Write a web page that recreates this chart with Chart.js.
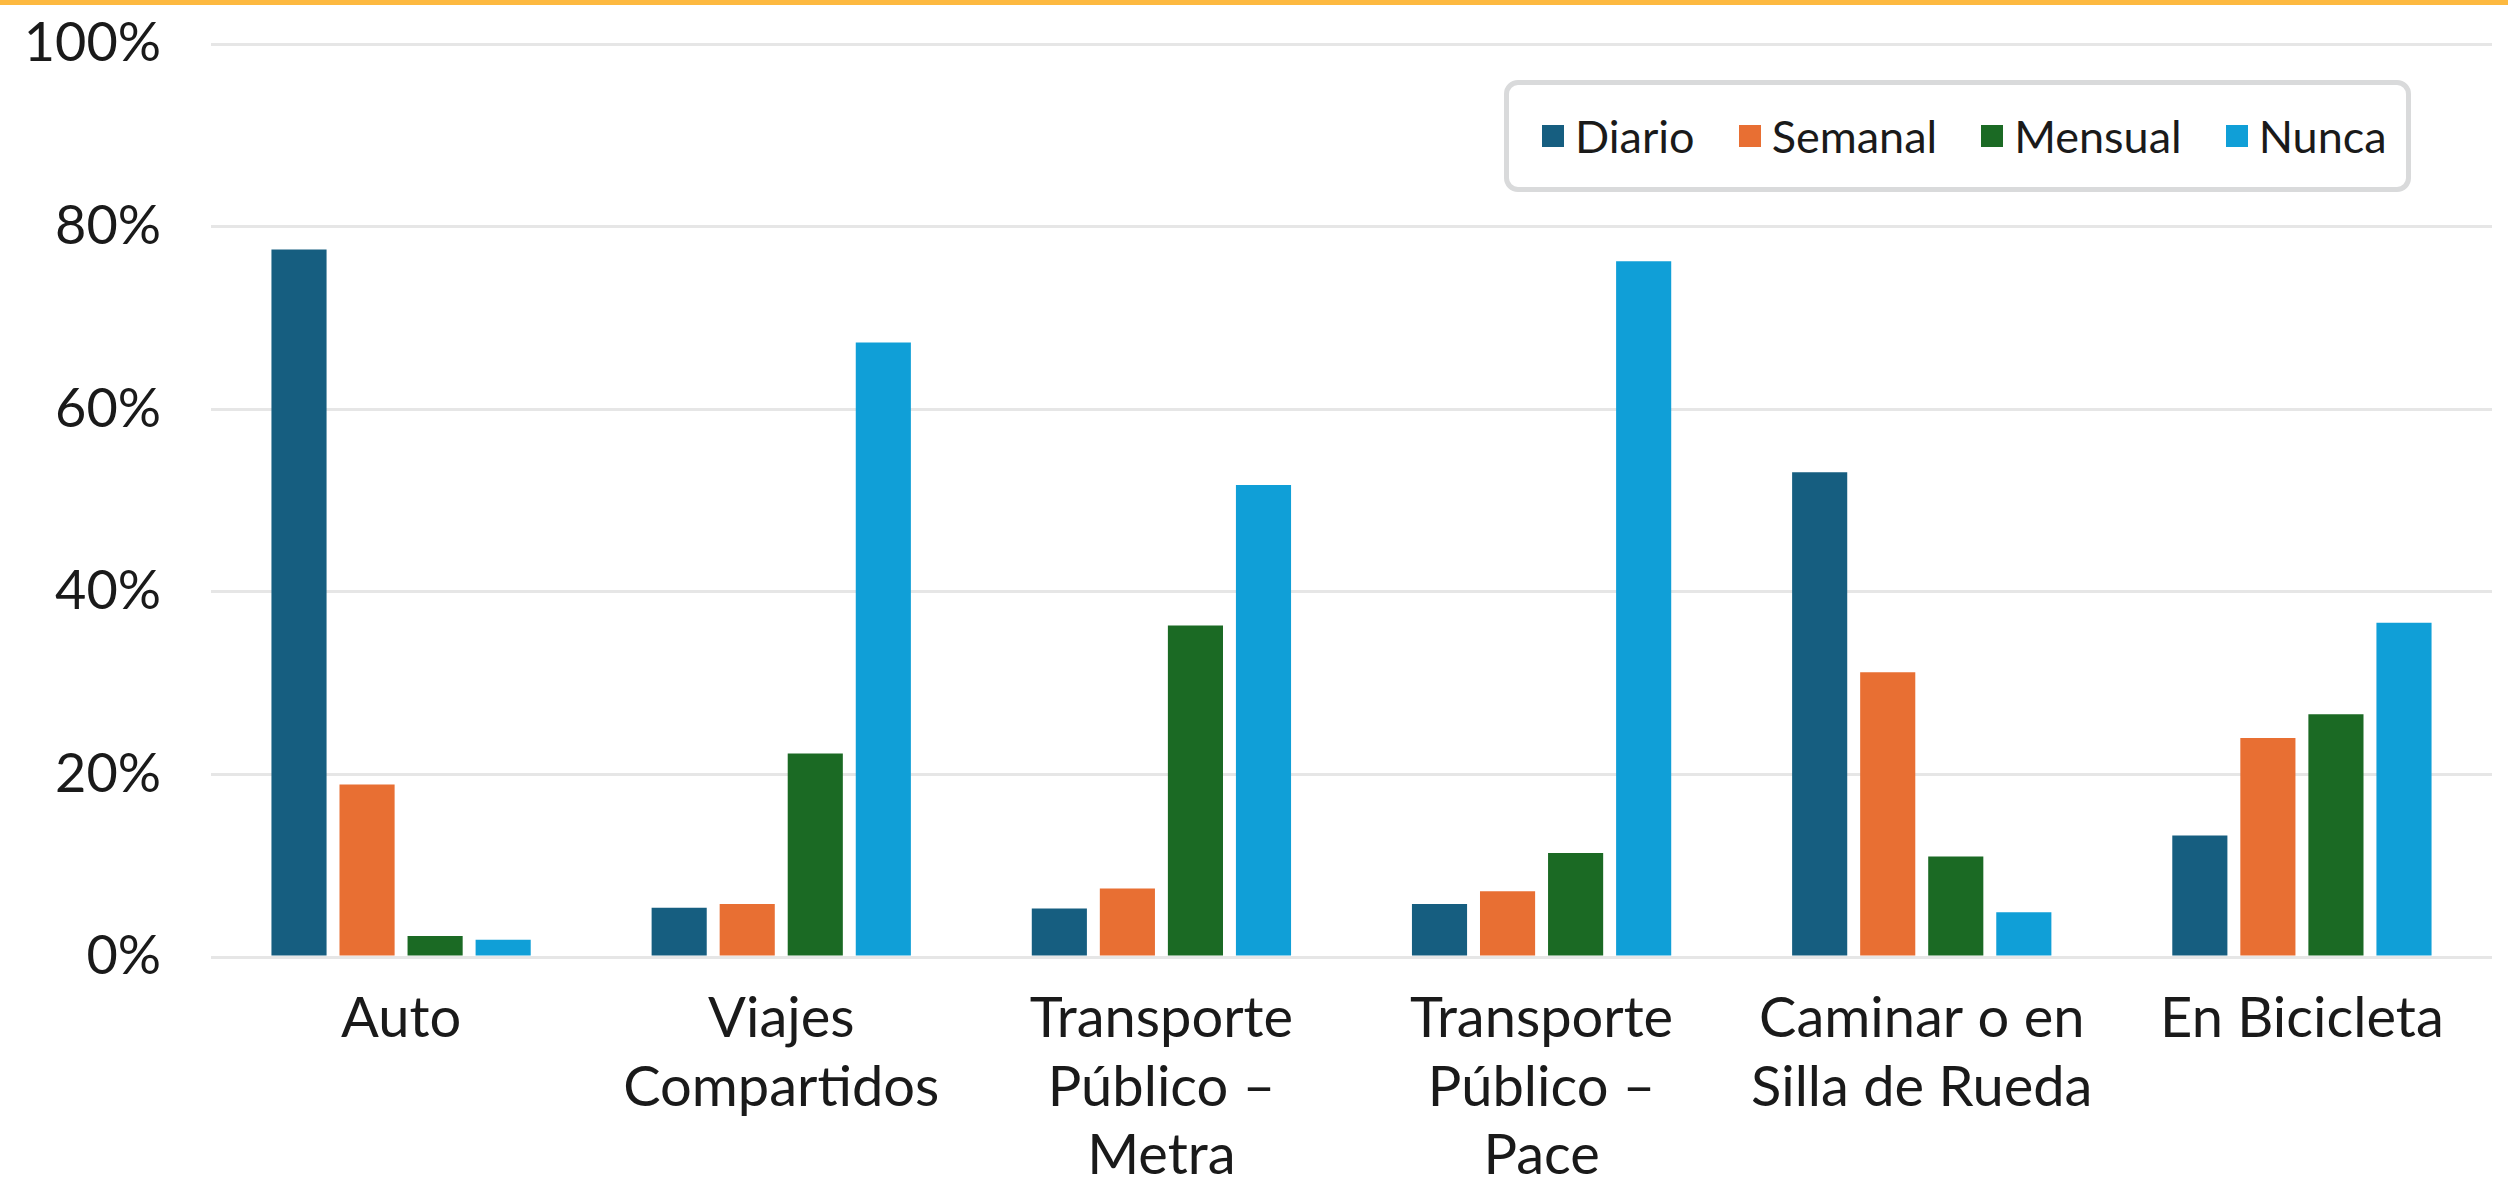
<!DOCTYPE html>
<html>
<head>
<meta charset="utf-8">
<script src="https://cdn.jsdelivr.net/npm/chart.js@4.4.1/dist/chart.umd.min.js"></script>
<style>
    html, body { margin: 0; padding: 0; background: #ffffff; }
    #wrap { position: relative; width: 2508px; height: 1189px; overflow: hidden; }
    #topline { position: absolute; left: 0; top: 0; width: 2508px; height: 5px; background: #FDB940; }
    #legend {
        position: absolute; left: 1504px; top: 80px; width: 864px; height: 102px;
        border: 5px solid #D9DADB; border-radius: 14px; background: #ffffff;
        display: flex; align-items: center; padding-left: 33px; box-sizing: content-box;
        font-family: Lato, "Noto Sans", sans-serif; font-size: 45px; color: #1a1a1a;
    }
    .item { display: flex; align-items: center; margin-right: 44px; white-space: nowrap; }
    .swatch { width: 22px; height: 22px; margin-right: 11px; }
</style>
</head>
<body>
<div id="wrap">
    <canvas id="chart" width="2508" height="1189"></canvas>
    <div id="topline"></div>
    <div id="legend"></div>
</div>
<script>
const categories = [
    ["Auto"],
    ["Viajes", "Compartidos"],
    ["Transporte", "Público –", "Metra"],
    ["Transporte", "Público –", "Pace"],
    ["Caminar o en", "Silla de Rueda"],
    ["En Bicicleta"]
];
const seriesNames = ["Diario", "Semanal", "Mensual", "Nunca"];
const seriesColors = ["#165E80", "#E86F33", "#1B6A24", "#109FD7"];

const diario = [77.5, 5.4, 5.3, 5.8, 53.1, 13.3];
const semanal = [18.9, 5.8, 7.5, 7.2, 31.2, 24.0];
const mensual = [2.3, 22.3, 36.3, 11.4, 11.0, 26.6];
const nunca = [1.9, 67.3, 51.7, 76.2, 4.9, 36.6];

const yTicks = [0, 20, 40, 60, 80, 100];

const seriesValues = [diario, semanal, mensual, nunca];

// legend built from the same series arrays
const legendEl = document.getElementById("legend");
seriesNames.forEach((name, i) => {
    const item = document.createElement("div");
    item.className = "item";
    const sw = document.createElement("span");
    sw.className = "swatch";
    sw.style.background = seriesColors[i];
    const label = document.createElement("span");
    label.textContent = name;
    item.appendChild(sw);
    item.appendChild(label);
    legendEl.appendChild(item);
});

const context = document.getElementById("chart").getContext("2d");

new Chart(context, {
    type: "bar",
    data: {
        labels: categories,
        datasets: seriesNames.map((name, i) => ({
            label: name,
            data: seriesValues[i],
            backgroundColor: seriesColors[i],
            borderWidth: 0,
            barPercentage: 0.81,
            categoryPercentage: 0.716,
        })),
    },
    options: {
        responsive: false,
        animation: false,
        devicePixelRatio: 1,
        layout: { padding: { left: 0, right: 16, top: 44, bottom: 0 } },
        plugins: {
            legend: { display: false },
            tooltip: { enabled: false },
        },
        scales: {
            x: {
                grid: { display: false, drawTicks: false },
                border: { display: false },
                ticks: {
                    color: "#1a1a1a",
                    padding: 28,
                    maxRotation: 0,
                    autoSkip: false,
                    font: { family: "Lato", size: 56, lineHeight: 1.22 },
                },
                afterFit: (scale) => { scale.height = 232; },
            },
            y: {
                min: 0,
                max: 100,
                afterBuildTicks: (scale) => { scale.ticks = yTicks.map((v) => ({ value: v })); },
                grid: { color: "#E6E6E6", lineWidth: 3, drawTicks: false },
                border: { display: false },
                ticks: {
                    color: "#1a1a1a",
                    padding: 50,
                    font: { family: "Lato", size: 54 },
                    callback: (v) => v + "%",
                },
                afterFit: (scale) => {
                    scale.width = 211;
                    // tick padding otherwise pushes the plot top down
                    scale.paddingTop = 0;
                    scale.paddingBottom = 0;
                },
            },
        },
    },
});
</script>
</body>
</html>
